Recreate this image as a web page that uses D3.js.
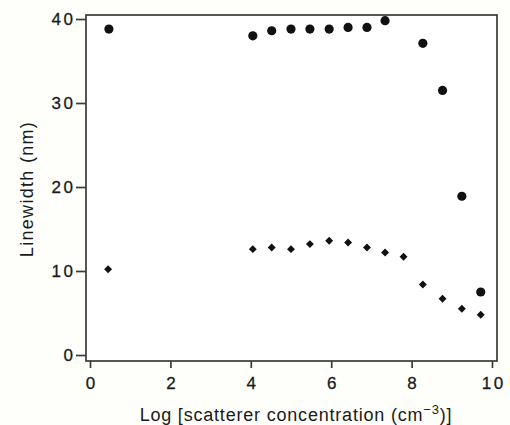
<!DOCTYPE html>
<html>
<head>
<meta charset="utf-8">
<script src="https://cdn.jsdelivr.net/npm/d3@7"></script>
<style>
  html, body { margin: 0; padding: 0; background: #fefefb; }
  svg { display: block; }
  .tick text { font-family: "Liberation Sans", Arial, sans-serif; fill: #1a1a1a; }
</style>
</head>
<body>
<svg id="chart" width="510" height="425"></svg>
<script>
// data
const circleX = [0.47, 4.05, 4.52, 5.0, 5.47, 5.95, 6.42, 6.89, 7.34, 8.28, 8.77, 9.25, 9.72];
const circleY = [38.8, 38.0, 38.6, 38.8, 38.8, 38.8, 39.0, 39.0, 39.8, 37.1, 31.5, 18.9, 7.5];
const diamondX = [0.45, 4.05, 4.52, 5.0, 5.47, 5.95, 6.42, 6.89, 7.34, 7.8, 8.28, 8.77, 9.25, 9.72];
const diamondY = [10.2, 12.6, 12.8, 12.6, 13.2, 13.6, 13.4, 12.8, 12.2, 11.7, 8.4, 6.7, 5.5, 4.8];
const xTicks = [0, 2, 4, 6, 8, 10];
const yTicks = [0, 10, 20, 30, 40];

const svg = d3.select('#chart');
const frame = { left: 86, right: 497, top: 15, bottom: 361 };
const font = '"Liberation Sans", Arial, sans-serif';
const ls = 2.5; // tick label letter spacing

const x = d3.scaleLinear().domain([0, 10]).range([90, 492]);
const y = d3.scaleLinear().domain([0, 40]).range([355, 19]);

// plot area
svg.append('rect')
  .attr('x', frame.left).attr('y', frame.top)
  .attr('width', frame.right - frame.left).attr('height', frame.bottom - frame.top)
  .attr('fill', '#fff').attr('stroke', '#3a3a3a').attr('stroke-width', 1.7);

const yAxis = svg.append('g')
  .attr('transform', `translate(${frame.left},0)`)
  .call(d3.axisLeft(y).tickValues(yTicks).tickSize(10).tickPadding(3 - ls));
yAxis.select('.domain').remove();
yAxis.selectAll('.tick line').attr('stroke', '#3a3a3a').attr('stroke-width', 1.7);
yAxis.selectAll('.tick text').attr('font-size', 17).attr('letter-spacing', ls)
  .attr('stroke', '#1a1a1a').attr('stroke-width', 0.3);

const xAxis = svg.append('g')
  .attr('transform', `translate(0,${frame.bottom})`)
  .call(d3.axisBottom(x).tickValues(xTicks).tickSize(7).tickPadding(9));
xAxis.select('.domain').remove();
xAxis.selectAll('.tick line').attr('stroke', '#3a3a3a').attr('stroke-width', 1.7);
xAxis.selectAll('.tick text').attr('font-size', 17).attr('letter-spacing', ls)
  .attr('dx', ls / 2)
  .attr('stroke', '#1a1a1a').attr('stroke-width', 0.3);

// points
const circles = circleX.map((v, i) => ({ x: v, y: circleY[i] }));
const diamonds = diamondX.map((v, i) => ({ x: v, y: diamondY[i] }));

svg.append('g').selectAll('circle').data(circles).join('circle')
  .attr('cx', d => x(d.x)).attr('cy', d => y(d.y)).attr('r', 4.6)
  .attr('fill', '#111');

const diamond = d3.symbol().type(d3.symbolDiamond2).size(40);
svg.append('g').selectAll('path').data(diamonds).join('path')
  .attr('d', diamond)
  .attr('transform', d => `translate(${x(d.x)},${y(d.y)})`)
  .attr('fill', '#111');

// axis titles
const xt = svg.append('text')
  .attr('x', 296).attr('y', 421)
  .attr('text-anchor', 'middle')
  .attr('font-family', font)
  .attr('font-size', 18).attr('letter-spacing', 0.8).attr('fill', '#1a1a1a');
xt.append('tspan').text('Log [scatterer concentration (cm');
xt.append('tspan').text('\u22123').attr('font-size', 13).attr('dy', -7);
xt.append('tspan').text(')]').attr('dy', 7);

svg.append('text')
  .attr('transform', 'translate(33,189) rotate(-90)')
  .attr('text-anchor', 'middle')
  .attr('font-family', font)
  .attr('font-size', 18).attr('letter-spacing', 1.3).attr('fill', '#1a1a1a')
  .text('Linewidth (nm)');
</script>
</body>
</html>
